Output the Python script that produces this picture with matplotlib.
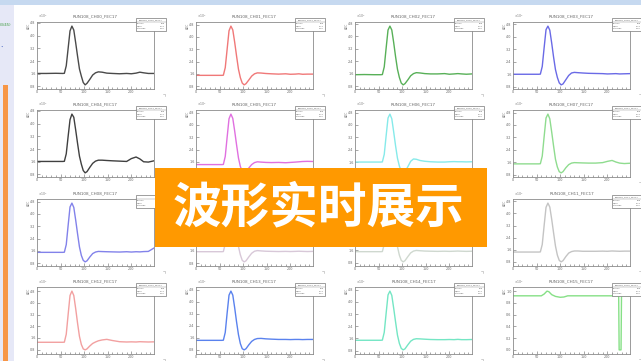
import matplotlib
matplotlib.use('Agg')
import matplotlib.pyplot as plt
from matplotlib.patches import Rectangle
from matplotlib.lines import Line2D
from matplotlib.ticker import MultipleLocator, MaxNLocator

W, H = 641, 361

# sample times (ns bins) shared by the pulse channels
t = [0, 20, 40, 55, 58, 62, 66, 70, 74, 78, 82, 86, 90, 94, 98, 102,
     106, 112, 118, 124, 130, 138, 148, 160, 175, 190, 200, 210, 218, 226, 236, 248]

# amplitudes (x10^3 ADC)
ch00 = [1.62, 1.62, 1.63, 1.62, 1.63, 2.10, 3.20, 4.30, 4.60, 4.35, 3.55, 2.70, 1.90, 1.45, 1.05, 0.90,
        1.00, 1.25, 1.52, 1.66, 1.72, 1.70, 1.64, 1.62, 1.60, 1.62, 1.60, 1.64, 1.70, 1.66, 1.62, 1.62]
ch01 = [1.50, 1.50, 1.50, 1.50, 1.51, 2.00, 3.20, 4.40, 4.70, 4.45, 3.65, 2.75, 1.90, 1.35, 1.00, 0.88,
        0.96, 1.20, 1.45, 1.60, 1.66, 1.65, 1.62, 1.60, 1.58, 1.60, 1.57, 1.58, 1.60, 1.57, 1.58, 1.58]
ch02 = [1.55, 1.56, 1.55, 1.55, 1.56, 2.05, 3.25, 4.40, 4.65, 4.40, 3.60, 2.70, 1.90, 1.38, 1.02, 0.90,
        0.98, 1.22, 1.48, 1.62, 1.68, 1.66, 1.62, 1.60, 1.60, 1.62, 1.58, 1.60, 1.62, 1.60, 1.58, 1.60]
ch03 = [1.60, 1.60, 1.60, 1.60, 1.61, 2.10, 3.30, 4.45, 4.68, 4.42, 3.60, 2.70, 1.90, 1.40, 1.05, 0.92,
        0.98, 1.25, 1.52, 1.68, 1.72, 1.70, 1.68, 1.66, 1.65, 1.64, 1.62, 1.63, 1.64, 1.62, 1.63, 1.64]
ch04 = [1.62, 1.62, 1.62, 1.62, 1.63, 2.10, 3.20, 4.25, 4.60, 4.40, 3.60, 2.75, 1.95, 1.45, 1.05, 0.90,
        0.98, 1.25, 1.50, 1.64, 1.70, 1.70, 1.68, 1.66, 1.64, 1.62, 1.80, 1.90, 1.78, 1.60, 1.58, 1.66]
ch05 = [1.42, 1.42, 1.42, 1.42, 1.43, 1.95, 3.20, 4.40, 4.70, 4.42, 3.60, 2.70, 1.85, 1.30, 0.98, 0.88,
        0.95, 1.20, 1.42, 1.55, 1.60, 1.58, 1.56, 1.55, 1.56, 1.54, 1.56, 1.58, 1.60, 1.62, 1.63, 1.62]
ch06 = [1.60, 1.60, 1.60, 1.60, 1.61, 2.10, 3.30, 4.45, 4.70, 4.40, 3.55, 2.65, 1.85, 1.35, 1.00, 0.90,
        0.98, 1.30, 1.65, 1.80, 1.78, 1.70, 1.65, 1.62, 1.60, 1.60, 1.62, 1.63, 1.62, 1.62, 1.61, 1.62]
ch07 = [1.50, 1.50, 1.50, 1.50, 1.51, 2.00, 3.25, 4.45, 4.70, 4.40, 3.55, 2.65, 1.80, 1.30, 1.00, 0.92,
        1.00, 1.25, 1.45, 1.55, 1.58, 1.57, 1.56, 1.55, 1.55, 1.58, 1.66, 1.72, 1.62, 1.55, 1.52, 1.54]
ch08 = [1.50, 1.50, 1.50, 1.50, 1.51, 2.00, 3.25, 4.45, 4.70, 4.42, 3.60, 2.70, 1.85, 1.30, 0.98, 0.88,
        0.95, 1.20, 1.42, 1.52, 1.56, 1.55, 1.54, 1.53, 1.52, 1.54, 1.52, 1.54, 1.53, 1.55, 1.56, 1.78]
ch09 = [1.55, 1.55, 1.55, 1.55, 1.56, 2.05, 3.25, 4.40, 4.65, 4.40, 3.60, 2.70, 1.88, 1.35, 1.00, 0.90,
        0.97, 1.22, 1.45, 1.58, 1.62, 1.60, 1.58, 1.57, 1.56, 1.57, 1.56, 1.57, 1.58, 1.57, 1.56, 1.57]
ch10 = [1.52, 1.52, 1.52, 1.52, 1.53, 2.00, 3.20, 4.40, 4.66, 4.40, 3.58, 2.68, 1.84, 1.30, 0.96, 0.86,
        0.94, 1.20, 1.44, 1.56, 1.60, 1.58, 1.56, 1.55, 1.54, 1.55, 1.54, 1.55, 1.56, 1.55, 1.54, 1.55]
ch11 = [1.45, 1.45, 1.45, 1.45, 1.46, 1.95, 3.20, 4.40, 4.68, 4.42, 3.62, 2.72, 1.85, 1.25, 0.90, 0.80,
        0.88, 1.15, 1.38, 1.48, 1.52, 1.52, 1.50, 1.50, 1.50, 1.51, 1.50, 1.52, 1.51, 1.50, 1.51, 1.51]
ch12 = [1.30, 1.30, 1.30, 1.30, 1.31, 1.85, 3.20, 4.50, 4.80, 4.50, 3.60, 2.60, 1.70, 1.15, 0.85, 0.78,
        0.85, 1.05, 1.22, 1.32, 1.40, 1.46, 1.50, 1.42, 1.34, 1.32, 1.33, 1.32, 1.34, 1.33, 1.32, 1.33]
ch13 = [1.42, 1.42, 1.42, 1.42, 1.43, 1.95, 3.25, 4.45, 4.72, 4.45, 3.60, 2.65, 1.80, 1.20, 0.86, 0.78,
        0.86, 1.12, 1.35, 1.48, 1.54, 1.55, 1.52, 1.50, 1.48, 1.48, 1.47, 1.48, 1.48, 1.47, 1.48, 1.48]
ch14 = [1.48, 1.48, 1.48, 1.48, 1.49, 2.00, 3.25, 4.45, 4.70, 4.42, 3.58, 2.68, 1.82, 1.28, 0.95, 0.85,
        0.92, 1.18, 1.42, 1.54, 1.58, 1.57, 1.55, 1.53, 1.52, 1.52, 1.53, 1.52, 1.54, 1.52, 1.52, 1.53]

# CH15 has no real pulse, only a flat level with a dropout near the end
t15 = [0, 40, 60, 66, 72, 76, 82, 90, 100, 108, 116, 150, 200, 224, 225, 229, 230, 248]
ch15 = [0.92, 0.92, 0.92, 0.95, 1.00, 0.99, 0.94, 0.91, 0.895, 0.90, 0.92, 0.92, 0.92, 0.92, 0.0, 0.0,
        0.92, 0.92]

channels = ['CH%02d' % i for i in range(16)]
waves = [ch00, ch01, ch02, ch03, ch04, ch05, ch06, ch07,
         ch08, ch09, ch10, ch11, ch12, ch13, ch14, ch15]
times = [t] * 15 + [t15]
colors = ['#4a4a4a', '#f07878', '#58b058', '#6a6ae6',
          '#404040', '#e070e0', '#86eaea', '#8fdc8f',
          '#8282ea', '#d8c8d8', '#cfd8cf', '#c4c4c4',
          '#f2a0a0', '#5a82ee', '#74e6c4', '#86e086']

col_x = [37, 196, 355, 513]
row_y = [22, 110, 199, 287]
pw, ph = 117, 67
banner = (155, 168, 332, 79)   # x, y, w, h in pixels from top-left

fig = plt.figure(figsize=(W / 100, H / 100), dpi=100)
fig.patch.set_facecolor('white')


def fx(x):
    return x / W


def fy(y):
    return 1 - y / H


def rect(x, y, w, h, **kw):
    fig.add_artist(Rectangle((fx(x), fy(y + h)), w / W, h / H,
                             transform=fig.transFigure, **kw))


# page chrome: top bar, left side panel
rect(0, 0, W, 5, color='#c6d9f0', lw=0)
rect(0, 5, 14, H - 5, color='#e6e8f7', lw=0)
rect(3, 85, 5, H - 85, color='#f79646', lw=0)
fig.text(fx(0), fy(25), '(3/45)', fontsize=2.8, color='#3a9a3a', va='center')
fig.text(fx(0), fy(48), '•', fontsize=3, color='#4060c0', va='center')

small_texts = []
for i, name in enumerate(channels):
    r, c = divmod(i, 4)
    x0, y0 = col_x[c], row_y[r]
    ax = fig.add_axes([fx(x0), fy(y0 + ph), pw / W, ph / H])
    y = waves[i]
    ax.plot(times[i], y, color=colors[i], lw=1.0)
    lo, hi = min(y), max(y)
    m = 0.07 * (hi - lo)
    ax.set_ylim(lo - m, hi + m)
    ax.set_xlim(0, 248)
    ax.xaxis.set_major_locator(MultipleLocator(50))
    ax.xaxis.set_minor_locator(MultipleLocator(10))
    ax.yaxis.set_major_locator(MaxNLocator(7))
    ax.tick_params(which='both', direction='in', color='#666666', width=0.4,
                   labelsize=2.4, labelcolor='#666666', pad=1)
    ax.tick_params(which='major', length=2.2)
    ax.tick_params(which='minor', length=1.2)
    for s in ax.spines.values():
        s.set_color('#8a8a8a')
        s.set_linewidth(0.6)
    small_texts += ax.get_xticklabels() + ax.get_yticklabels()

    title = 'RUN108_%s_FEC17' % name
    small_texts.append(fig.text(fx(x0 + pw / 2), fy(y0 - 6), title, fontsize=3.0,
                                color='#666666', ha='center', va='center'))
    small_texts.append(fig.text(fx(x0 + 1), fy(y0 - 1.5), r'$\times10^{3}$',
                                fontsize=2.2, color='#777777', va='bottom'))
    small_texts.append(fig.text(fx(x0 - 8), fy(y0 + 1), 'ADC', fontsize=2.2,
                                color='#777777', rotation=90, ha='center', va='top'))

    # small resize grip below the lower right corner
    fig.add_artist(Line2D([fx(x0 + pw + 9), fx(x0 + pw + 11), fx(x0 + pw + 11)],
                          [fy(y0 + ph + 5), fy(y0 + ph + 5), fy(y0 + ph + 7)],
                          transform=fig.transFigure, color='#aaaaaa', lw=0.4))

    # stats box in the upper right corner
    bx, by, bw, bh = x0 + pw - 18, y0 - 4, 30, 13
    rect(bx, by, bw, bh, facecolor='white', edgecolor='#777777', lw=0.5, zorder=5)
    fig.add_artist(Line2D([fx(bx), fx(bx + bw)], [fy(by + 3.5)] * 2,
                          transform=fig.transFigure, color='#888888', lw=0.3, zorder=6))
    small_texts.append(fig.text(fx(bx + bw / 2), fy(by + 1.8), title, fontsize=1.5,
                                color='#555555', ha='center', va='center', zorder=6))
    stats = [('Entries', '256'), ('Mean', '97.4'), ('Std Dev', '41.2')]
    for k, (lab, val) in enumerate(stats):
        yy = fy(by + 5.5 + k * 2.6)
        small_texts.append(fig.text(fx(bx + 1), yy, lab, fontsize=1.5, color='#555555',
                                    va='center', zorder=6))
        small_texts.append(fig.text(fx(bx + bw - 1), yy, val, fontsize=1.5, color='#555555',
                                    ha='right', va='center', zorder=6))

# title banner across the middle of the grid
rect(*banner, color='#ff9900', lw=0, zorder=20)
fig.text(fx(318), fy(208), '波形实时展示', fontsize=35, color='white', weight='bold',
         family=['Noto Sans CJK SC', 'DejaVu Sans'], ha='center', va='center', zorder=21)

# labels lying under the banner are not seen anyway; drop them
fig.canvas.draw()
bx0, by0, bw_, bh_ = banner
left, right = bx0, bx0 + bw_
top, bottom = H - by0, H - (by0 + bh_)
for txt in small_texts:
    if not txt.get_visible() or not txt.get_text():
        continue
    e = txt.get_window_extent()
    area = max(e.width * e.height, 1e-6)
    ox = max(0, min(e.x1, right) - max(e.x0, left))
    oy = max(0, min(e.y1, top) - max(e.y0, bottom))
    if ox * oy / area > 0.3:
        txt.set_visible(False)

fig.savefig('out.png', dpi=100)
